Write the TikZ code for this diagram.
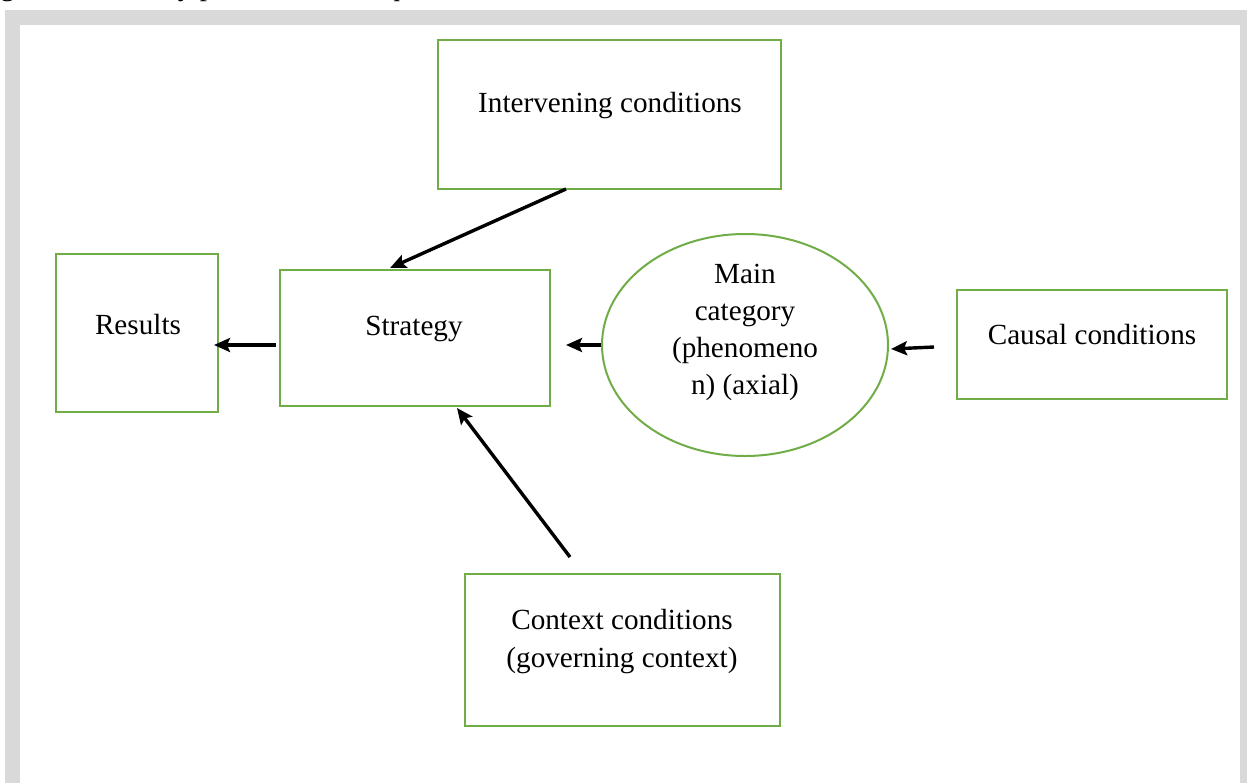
\documentclass[tikz,border=0pt]{standalone}
\usepackage{fontspec}
\setmainfont{Liberation Serif}
\usetikzlibrary{arrows.meta,shapes.geometric,calc}
\definecolor{framegray}{HTML}{D9D9D9}
\definecolor{boxgreen}{HTML}{70AD47}
\tikzset{
  gbox/.style={draw=boxgreen, line width=1pt, rectangle, inner sep=0pt},
  gell/.style={draw=boxgreen, line width=1pt, ellipse, inner sep=0pt},
  lbl/.style={font=\fontsize{14.6pt}{18.5pt}\selectfont, align=center, inner sep=0pt},
  arr/.style={line width=1.7pt, -{Stealth[length=8pt,width=7pt,inset=1.5pt]}},
}
\begin{document}
\begin{tikzpicture}[x=0.5pt,y=-0.5pt]
\useasboundingbox (0,0) rectangle (1247,782);
% frame
\fill[framegray] (5,10) rectangle (1260,800);
\fill[white] (20,25) rectangle (1240,800);
% clipped caption line
\node[lbl, anchor=base west] (cap) at (0,-5) {grounded theory procedure for a qualitative research};
% boxes
\node[gbox, minimum width=171.5pt, minimum height=74.5pt] (interv) at (609.5,114.5) {};
\node[gbox, minimum width=81pt, minimum height=79pt] (results) at (137,333) {};
\node[gbox, minimum width=135pt, minimum height=68pt] (strategy) at (415,338) {};
\node[gell, minimum width=143pt, minimum height=111pt] (main) at (745,345) {};
\node[gbox, minimum width=135pt, minimum height=54.5pt] (causal) at (1092,344.5) {};
\node[gbox, minimum width=157.5pt, minimum height=76pt] (context) at (622.5,650) {};
% labels
\node[lbl] (intervT) at (610,106) {Intervening conditions};
\node[lbl] (resultsT) at (138,325) {Results};
\node[lbl] (strategyT) at (414,329) {Strategy};
\node[lbl] (mainT) at (745,332) {Main\\category\\(phenomeno\\n) (axial)};
\node[lbl] (causalT) at (1092,335) {Causal conditions};
\node[lbl, font=\fontsize{14.6pt}{19pt}\selectfont] (contextT) at (622,642) {Context conditions\\(governing context)};
% arrows
\draw[arr] ([shift={(-43.5,-1)}]interv.south) -- ([shift={(-25,-1)}]strategy.north);
\draw[arr] ([shift={(-3,7)}]strategy.west) -- ([shift={(-5,12)}]results.east);
\draw[arr] ([shift={(0,0)}]main.west) -- ([shift={(15,7)}]strategy.east);
\draw[arr] ([shift={(-22,2.5)}]causal.west) -- ([shift={(2,4)}]main.east);
\draw[arr] ([shift={(-52.5,-16)}]context.north) -- ([shift={(42,1)}]strategy.south);
\end{tikzpicture}
\end{document}
